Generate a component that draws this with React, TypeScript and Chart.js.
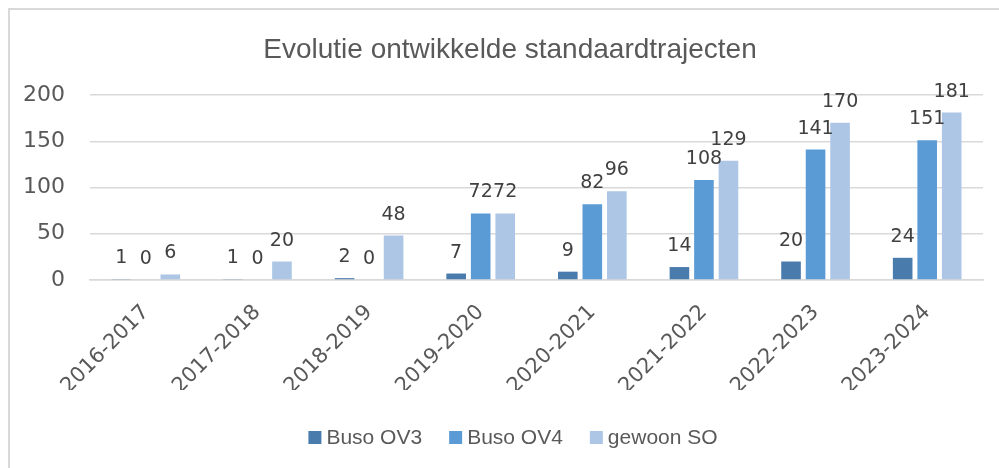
import React, { useEffect, useRef } from "react";
import { Chart, registerables } from "chart.js";

Chart.register(...registerables);

const chartTitle = "Evolutie ontwikkelde standaardtrajecten";
const categories = [
  "2016-2017",
  "2017-2018",
  "2018-2019",
  "2019-2020",
  "2020-2021",
  "2021-2022",
  "2022-2023",
  "2023-2024",
];
const busoOV3 = [1, 1, 2, 7, 9, 14, 20, 24];
const busoOV4 = [0, 0, 0, 72, 82, 108, 141, 151];
const gewoonSO = [6, 20, 48, 72, 96, 129, 170, 181];
const seriesNames = ["Buso OV3", "Buso OV4", "gewoon SO"];
const seriesColors = ["#4a7bad", "#5b9bd5", "#adc6e6"];
const yTicks = [0, 50, 100, 150, 200];

const decorPlugin = {
  id: "decor",
  afterDatasetsDraw(chart: any) {
    const ctx = chart.ctx;
    ctx.save();
    ctx.font = '19px "DejaVu Sans"';
    ctx.fillStyle = "#404040";
    ctx.textAlign = "center";
    ctx.textBaseline = "alphabetic";
    chart.data.datasets.forEach((ds: any, i: number) => {
      const meta = chart.getDatasetMeta(i);
      meta.data.forEach((bar: any, j: number) => {
        ctx.fillText(String(ds.data[j]), bar.x, bar.y - 16);
      });
    });
    ctx.restore();
  },
  afterDraw(chart: any) {
    const ctx = chart.ctx;
    ctx.save();
    // title
    ctx.font = '28px "Liberation Sans"';
    ctx.fillStyle = "#595959";
    ctx.textAlign = "center";
    ctx.textBaseline = "alphabetic";
    ctx.fillText(chartTitle, 500, 47.5);
    // legend
    ctx.font = '21px "Liberation Sans"';
    ctx.textAlign = "left";
    const box = 13;
    const gapText = 5;
    const gapItem = 27;
    const widths = seriesNames.map((n) => ctx.measureText(n).width);
    const total =
      widths.reduce((a, w) => a + box + gapText + w, 0) +
      gapItem * (seriesNames.length - 1);
    let x = 503 - total / 2;
    seriesNames.forEach((n, i) => {
      ctx.fillStyle = seriesColors[i];
      ctx.fillRect(x, 421, box, box);
      ctx.fillStyle = "#595959";
      ctx.fillText(n, x + box + gapText, 434);
      x += box + gapText + widths[i] + gapItem;
    });
    ctx.restore();
  },
};

export default function App() {
  const ref = useRef<HTMLCanvasElement | null>(null);

  useEffect(() => {
    if (!ref.current) return;
    const seriesData = [busoOV3, busoOV4, gewoonSO];
    const chart = new Chart(ref.current, {
      type: "bar",
      data: {
        labels: categories,
        datasets: seriesNames.map((name, i) => ({
          label: name,
          data: seriesData[i],
          backgroundColor: seriesColors[i],
          borderWidth: 0,
          categoryPercentage: 0.659,
          barPercentage: 0.8,
        })),
      },
      options: {
        animation: false,
        responsive: false,
        devicePixelRatio: 1,
        layout: { padding: { left: 0, top: 85, right: 16, bottom: 78 } },
        plugins: {
          legend: { display: false },
          title: { display: false },
          tooltip: { enabled: false },
        },
        scales: {
          x: {
            grid: { display: false, drawTicks: false },
            border: { display: true, color: "#d9d9d9", width: 1.5 },
            ticks: {
              color: "#595959",
              font: { family: "DejaVu Sans", size: 21 },
              minRotation: 45,
              maxRotation: 45,
              padding: 20,
              autoSkip: false,
            },
            afterFit: (s: any) => {
              s.height = 110;
            },
          },
          y: {
            min: 0,
            max: 200,
            afterBuildTicks: (s: any) => {
              s.ticks = yTicks.map((v) => ({ value: v }));
            },
            ticks: {
              color: "#595959",
              font: { family: "DejaVu Sans", size: 22 },
              padding: 25,
            },
            grid: { color: "#d9d9d9", lineWidth: 1.5, drawTicks: false },
            border: { display: false },
            afterFit: (s: any) => {
              s.width = 80;
            },
          },
        },
      },
      plugins: [decorPlugin],
    });
    return () => chart.destroy();
  }, []);

  return (
    <div
      style={{
        position: "fixed",
        left: 0,
        top: 0,
        width: 999,
        height: 468,
        overflow: "hidden",
        background: "#ffffff",
      }}
    >
      <div
        style={{
          position: "absolute",
          left: 8,
          top: 8,
          width: 1200,
          height: 700,
          borderLeft: "2px solid #d9d9d9",
          borderTop: "2px solid #d9d9d9",
          boxSizing: "border-box",
        }}
      />
      <div style={{ position: "absolute", left: 10, top: 10, width: 989, height: 458 }}>
        <canvas ref={ref} width={989} height={458} style={{ display: "block", width: 989, height: 458 }} />
      </div>
    </div>
  );
}
